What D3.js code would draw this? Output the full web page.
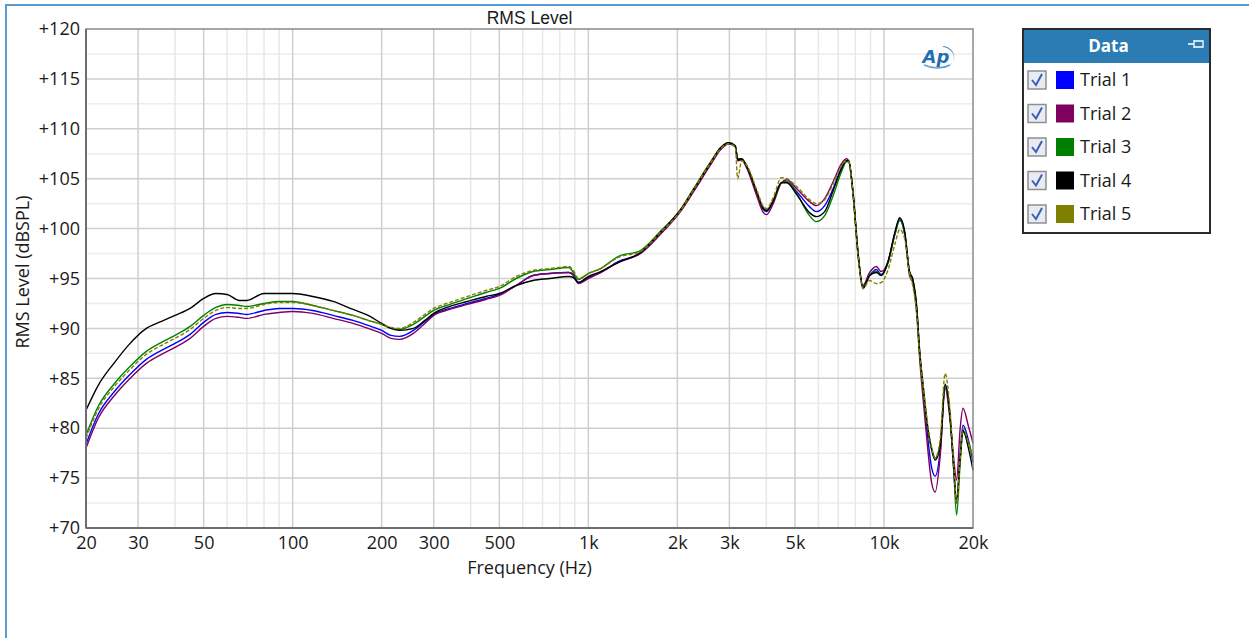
<!DOCTYPE html>
<html><head><meta charset="utf-8">
<script src="https://cdn.jsdelivr.net/npm/d3@7"></script>
<style>
html,body{margin:0;padding:0;background:#fff;overflow:hidden}
svg{display:block}
</style></head>
<body>
<svg id="chart" width="1249" height="638"></svg>
<script>
const chartTitle = "RMS Level";
const xAxisLabel = "Frequency (Hz)";
const yAxisLabel = "RMS Level (dBSPL)";
const seriesNames = ["Trial 1","Trial 2","Trial 3","Trial 4","Trial 5"];
const seriesColors = ["#0000ff","#800060","#008000","#000000","#808000"];
const yTicks = [70,75,80,85,90,95,100,105,110,115,120];
const xTickValues = [20,30,50,100,200,300,500,1000,2000,3000,5000,10000,20000];
const xTickLabels = ["20","30","50","100","200","300","500","1k","2k","3k","5k","10k","20k"];

const freqs = [20,22,25,28,32,36,40,45,50,55,60,66,70,80,90,100,117,137,160,180,200,215,230,256,280,300,340,390,450,500,570,650,740,860,890,925,1000,1100,1260,1500,1750,2050,2270,2580,2800,2980,3140,3200,3300,3440,3710,3910,4010,4220,4500,4690,5070,5600,5900,6300,6730,7180,7460,7600,7860,8170,8490,8940,9420,9790,10300,10900,11300,11750,12200,12500,12900,13200,13600,13900,14500,14900,15500,16100,16700,17200,17600,18100,18500,19300,20000];

const trial1 = [78.4,81.4,83.7,85.3,86.9,87.8,88.5,89.4,90.6,91.4,91.6,91.5,91.4,91.8,92.0,92.0,91.8,91.3,90.8,90.3,89.8,89.3,89.2,89.8,90.7,91.4,92.0,92.5,93.0,93.4,94.3,95.3,95.5,95.6,95.4,94.6,95.1,95.6,96.7,97.5,99.5,101.8,103.8,106.4,108.0,108.5,108.2,106.9,106.9,106.2,103.6,101.9,101.7,102.7,104.6,104.7,103.7,102.2,101.7,102.3,104.0,106.1,106.8,106.7,103.5,97.5,94.2,95.3,95.9,95.4,96.6,99.6,101.0,99.6,95.6,94.9,92.0,87.5,83.5,80.5,76.0,75.2,77.8,84.2,81.3,76.0,72.5,77.5,80.3,78.8,76.6];
const trial2 = [78.0,81.0,83.3,84.9,86.5,87.4,88.1,89.0,90.2,91.0,91.2,91.1,91.0,91.4,91.6,91.7,91.5,91.0,90.5,90.0,89.5,89.0,88.9,89.5,90.5,91.3,91.9,92.4,92.9,93.3,94.3,95.3,95.5,95.6,95.3,94.5,95.0,95.6,96.6,97.5,99.4,101.7,103.7,106.3,107.9,108.5,108.3,106.8,106.9,106.0,103.3,101.6,101.4,102.5,104.6,104.9,104.0,102.7,102.3,103.0,104.7,106.5,107.0,106.8,103.4,97.3,94.3,95.6,96.2,95.7,96.6,99.5,100.9,99.4,95.3,94.6,91.5,87.0,82.5,79.5,74.5,73.6,77.3,84.0,81.0,77.0,74.8,80.0,82.0,80.2,78.5];
const trial3 = [79.3,82.2,84.5,86.1,87.7,88.6,89.3,90.2,91.3,92.1,92.4,92.3,92.2,92.5,92.7,92.7,92.3,91.8,91.3,90.8,90.4,90.0,89.9,90.4,91.2,91.8,92.4,93.0,93.6,94.0,95.0,95.7,95.9,96.1,95.6,94.9,95.5,96.0,97.2,97.8,99.7,101.9,104.0,106.6,108.1,108.6,108.3,107.0,107.0,106.2,103.7,102.1,101.9,102.8,104.6,104.7,103.5,101.3,100.7,101.3,103.3,105.7,106.7,106.7,103.5,97.5,94.0,95.3,95.7,95.3,96.5,99.5,100.8,99.5,95.6,94.8,92.0,87.5,83.5,81.0,78.0,77.0,78.5,84.3,81.5,76.0,71.3,76.5,79.6,78.6,77.0];
const trial4 = [81.8,84.3,86.6,88.4,90.0,90.7,91.3,92.0,93.0,93.5,93.4,92.8,92.8,93.5,93.5,93.5,93.2,92.7,91.9,91.3,90.5,90.0,89.8,90.0,90.8,91.5,92.2,92.7,93.2,93.5,94.3,94.8,95.0,95.2,95.1,94.6,95.2,95.7,96.6,97.6,99.6,101.9,103.9,106.5,108.1,108.6,108.3,106.9,107.0,106.2,103.7,102.0,101.8,102.8,104.6,104.6,103.4,101.6,101.2,101.7,103.8,106.0,106.8,106.8,103.6,97.6,94.0,95.3,95.6,95.3,96.6,99.7,101.1,99.7,95.7,95.0,92.2,87.8,84.0,81.3,77.8,76.8,78.3,84.4,81.5,76.3,72.8,77.0,79.8,78.0,75.8];
const trial5 = [79.0,81.9,84.2,85.8,87.4,88.3,89.0,89.9,91.0,91.8,92.1,92.0,92.0,92.4,92.6,92.6,92.3,91.8,91.3,90.8,90.4,90.1,90.0,90.6,91.4,92.0,92.6,93.2,93.8,94.2,95.2,95.8,96.0,96.2,95.8,95.0,95.5,96.0,97.1,97.7,99.6,101.8,103.9,106.5,108.0,108.5,108.2,105.0,106.8,106.3,103.9,102.2,102.0,103.1,105.1,105.0,104.2,102.9,102.5,102.9,104.5,106.3,106.8,106.7,103.4,97.3,94.0,94.8,94.5,94.6,95.8,98.5,99.9,99.0,95.5,94.3,91.5,87.5,84.0,81.5,78.0,77.0,79.0,85.5,82.0,76.5,72.5,77.0,80.0,78.5,77.0];

const seriesValues = [trial1, trial2, trial3, trial4, trial5];

const svg = d3.select("#chart");
const tickFont = "'Open Sans', 'Noto Sans', sans-serif";

// outer window frame
svg.append("line").attr("x1",6).attr("x2",6).attr("y1",5).attr("y2",638).attr("stroke","#5b9bd5").attr("stroke-width",2);
svg.append("line").attr("x1",5).attr("x2",1249).attr("y1",5).attr("y2",5).attr("stroke","#5b9bd5").attr("stroke-width",2);

const L = 86, R = 973, T = 29, B = 528;
const x = d3.scaleLog().domain([20,20000]).range([L,R]);
const y = d3.scaleLinear().domain([70,120]).range([B,T]);

// grids
const gGrid = svg.append("g");
const minorY = d3.range(72.5,120,5);
gGrid.selectAll("line.my").data(minorY).join("line")
  .attr("x1",L).attr("x2",R).attr("y1",d=>y(d)).attr("y2",d=>y(d))
  .attr("stroke","#ececec").attr("stroke-width",1.5);
const allX = [];
[10,100,1000,10000].forEach(dec=>{for(let k=1;k<10;k++){const v=dec*k; if(v>20&&v<20000) allX.push(v);}});
const minorX = allX.filter(v=>!xTickValues.includes(v));
gGrid.selectAll("line.mx").data(minorX).join("line")
  .attr("x1",d=>x(d)).attr("x2",d=>x(d)).attr("y1",T).attr("y2",B)
  .attr("stroke","#e8e8e8").attr("stroke-width",1.5);
gGrid.selectAll("line.My").data(yTicks.slice(1,-1)).join("line")
  .attr("x1",L).attr("x2",R).attr("y1",d=>y(d)).attr("y2",d=>y(d))
  .attr("stroke","#cfcfcf").attr("stroke-width",1.5);
gGrid.selectAll("line.Mx").data(xTickValues.slice(1,-1)).join("line")
  .attr("x1",d=>x(d)).attr("x2",d=>x(d)).attr("y1",T).attr("y2",B)
  .attr("stroke","#cfcfcf").attr("stroke-width",1.5);

// curves
const line = d3.line().x(d=>x(d[0])).y(d=>y(d[1])).curve(d3.curveMonotoneX);
const gLines = svg.append("g");
seriesValues.forEach((vals,i)=>{
  const pts = freqs.map((f,j)=>[f,vals[j]]);
  gLines.append("path").datum(pts).attr("d",line)
    .attr("fill","none").attr("stroke",seriesColors[i]).attr("stroke-width",1.4)
    .attr("stroke-linejoin","round")
    .attr("stroke-dasharray", i===4 ? "4,2" : null);
});

// plot frame
svg.append("rect").attr("x",L).attr("y",T).attr("width",R-L).attr("height",B-T)
  .attr("fill","none").attr("stroke","#8a8a8a").attr("stroke-width",1.5);
svg.append("line").attr("x1",L).attr("x2",L).attr("y1",T).attr("y2",B).attr("stroke","#6e6e6e").attr("stroke-width",2);
svg.append("line").attr("x1",L).attr("x2",R).attr("y1",B).attr("y2",B).attr("stroke","#6e6e6e").attr("stroke-width",2);

// axes
const yAxis = d3.axisLeft(y).tickValues(yTicks).tickFormat(d=>"+"+d).tickSize(0).tickPadding(6);
const gy = svg.append("g").attr("transform",`translate(${L},0)`).call(yAxis);
gy.select(".domain").remove();
gy.selectAll("text").attr("font-family",tickFont).attr("font-size",18).attr("fill","#1a1a1a");

const xAxis = d3.axisBottom(x).tickValues(xTickValues).tickFormat((d,i)=>xTickLabels[i]).tickSize(0).tickPadding(8);
const gx = svg.append("g").attr("transform",`translate(0,${B})`).call(xAxis);
gx.select(".domain").remove();
gx.selectAll("text").attr("font-family",tickFont).attr("font-size",18).attr("fill","#1a1a1a");

// labels
svg.append("text").attr("x",(L+R)/2).attr("y",24).attr("text-anchor","middle")
  .attr("font-family","'Liberation Sans', Arial, sans-serif").attr("font-size",17.5).attr("fill","#1a1a1a").text(chartTitle);
svg.append("text").attr("x",(L+R)/2).attr("y",574).attr("text-anchor","middle")
  .attr("font-family",tickFont).attr("font-size",18).attr("fill","#1a1a1a").text(xAxisLabel);
svg.append("text").attr("transform","translate(29,272) rotate(-90)").attr("text-anchor","middle")
  .attr("font-family",tickFont).attr("font-size",18).attr("fill","#1a1a1a").text(yAxisLabel);

// AP logo
const logo = svg.append("g").attr("transform","translate(938,57)");
logo.append("path").attr("d","M 6 -11 A 13 11 0 0 1 8 10 L 2 11 A 11 9 0 0 0 4 -10 Z").attr("fill","#2a7ab8").attr("opacity",0.85);
logo.append("path").attr("d","M -14 8 Q 0 14 12 8").attr("fill","none").attr("stroke","#2a7ab8").attr("stroke-width",1.5).attr("opacity",0.7);
logo.append("text").attr("x",-2).attr("y",6).attr("text-anchor","middle").attr("font-family","'DejaVu Sans', sans-serif")
  .attr("font-weight","bold").attr("font-style","italic").attr("font-size",18).attr("fill","#1f6fb2").text("Ap");

// legend
const lg = svg.append("g").attr("transform","translate(1023,29)");
const lgW = 187, lgH = 204;
lg.append("rect").attr("x",0).attr("y",0).attr("width",lgW).attr("height",lgH).attr("fill","#fff");
lg.append("rect").attr("x",0).attr("y",0).attr("width",lgW).attr("height",34).attr("fill","#2b7bb5");
lg.append("text").attr("x",lgW/2-8).attr("y",23).attr("text-anchor","middle").attr("font-family",tickFont)
  .attr("font-weight","bold").attr("font-size",17).attr("fill","#fff").text("Data");
lg.append("path").attr("d",`M ${lgW-22} 15 H ${lgW-16} M ${lgW-16} 11 V 19 M ${lgW-16} 12 H ${lgW-7} V 18 H ${lgW-16}`)
  .attr("fill","none").attr("stroke","#fff").attr("stroke-width",1.3);
lg.append("rect").attr("x",0).attr("y",0).attr("width",lgW).attr("height",lgH).attr("fill","none").attr("stroke","#2a2a2a").attr("stroke-width",2);
seriesNames.forEach((name,i)=>{
  const cy = 51 + i*33.5;
  const row = lg.append("g").attr("transform",`translate(0,${cy})`);
  row.append("rect").attr("x",5).attr("y",-9).attr("width",18).attr("height",18)
    .attr("fill","#e8ebf2").attr("stroke","#8f8f8f").attr("stroke-width",1.5);
  row.append("path").attr("d","M 9 0 L 13 5 L 19 -6").attr("fill","none").attr("stroke","#3a5fb5").attr("stroke-width",2);
  row.append("rect").attr("x",33).attr("y",-9).attr("width",18).attr("height",18).attr("fill",seriesColors[i]);
  row.append("text").attr("x",57).attr("y",6).attr("font-family",tickFont).attr("font-size",18).attr("fill","#1a1a1a").text(name);
});
</script>
</body></html>
